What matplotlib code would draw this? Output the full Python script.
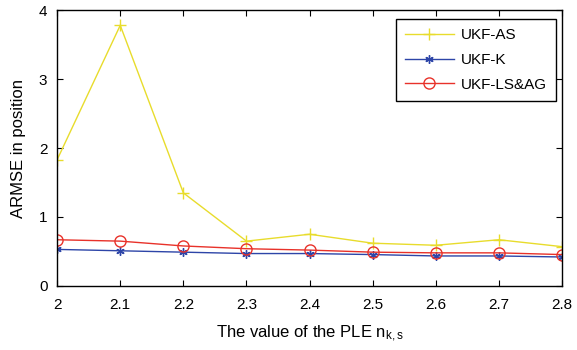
import matplotlib.pyplot as plt

plt.rcParams['font.family'] = ['Liberation Sans', 'DejaVu Sans']
plt.rcParams['mathtext.fontset'] = 'custom'
plt.rcParams['mathtext.rm'] = 'Liberation Sans'
plt.rcParams['mathtext.it'] = 'Liberation Sans'

ple = [2.0, 2.1, 2.2, 2.3, 2.4, 2.5, 2.6, 2.7, 2.8]
ukf_as = [1.83, 3.78, 1.35, 0.65, 0.75, 0.62, 0.59, 0.67, 0.57]
ukf_k = [0.53, 0.51, 0.49, 0.47, 0.47, 0.455, 0.435, 0.435, 0.42]
ukf_lsag = [0.67, 0.65, 0.58, 0.54, 0.52, 0.49, 0.48, 0.48, 0.455]

fig = plt.figure(figsize=(5.77, 3.5), dpi=100)
ax = fig.add_axes([0.099, 0.183, 0.875, 0.788])

ax.plot(ple, ukf_as, color='#e8dc2c', lw=1.0, marker='+', ms=9, mew=1.0, label='UKF-AS')
ax.plot(ple, ukf_k, color='#2d45a8', lw=1.0, marker=(6, 2, 0), ms=6, mew=1.0, label='UKF-K')
ax.plot(ple, ukf_lsag, color='#e8322a', lw=1.0, marker='o', ms=8, mfc='none', mew=1.0, label='UKF-LS&AG')

ax.set_xlim(2, 2.8)
ax.set_ylim(0, 4)
ax.set_xticks(ple)
ax.set_xticklabels(['2', '2.1', '2.2', '2.3', '2.4', '2.5', '2.6', '2.7', '2.8'])
ax.set_yticks([0, 1, 2, 3, 4])
ax.tick_params(direction='in', top=True, right=True, labelsize=11, length=4)
ax.tick_params(axis='x', pad=9)
ax.tick_params(axis='y', pad=7)
for s in ax.spines.values():
    s.set_linewidth(1.0)

ax.set_ylabel('ARMSE in position', fontsize=12, labelpad=9)
ax.set_xlabel(r'The value of the PLE n$_{\rm k,s}$', fontsize=12, labelpad=8)

leg = ax.legend(loc='upper right', fontsize=11, handlelength=3.2, handletextpad=0.45,
                fancybox=False, edgecolor='black', framealpha=1, borderpad=0.6,
                labelspacing=0.7, borderaxespad=0, bbox_to_anchor=(0.988, 0.967))
leg.get_frame().set_linewidth(1.0)

fig.savefig('out.png', dpi=100)
